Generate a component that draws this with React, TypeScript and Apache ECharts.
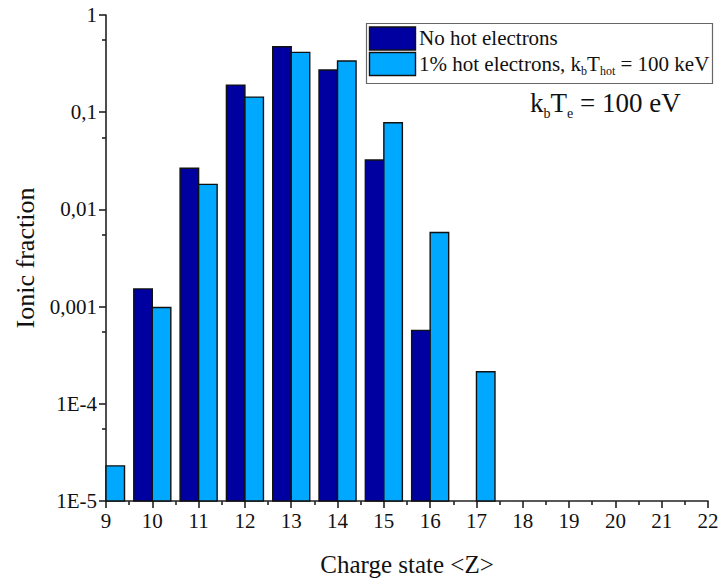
import React, { useEffect, useRef } from "react";
import * as echarts from "echarts";

const chargeStates = [9, 10, 11, 12, 13, 14, 15, 16, 17];
const noHot = [null, 0.00152, 0.0265, 0.19, 0.472, 0.272, 0.0322, 0.00057, null];
const withHot = [2.3e-5, 0.00098, 0.0181, 0.143, 0.413, 0.336, 0.078, 0.00578, 2.14e-4];
const yTickLabels = ["1", "0,1", "0,01", "0,001", "1E-4", "1E-5"];
const seriesNames = ["No hot electrons", "1% hot electrons, kbThot = 100 keV"];

const Y_MIN = 1e-5;
const Y_MAX = 1;
const X_MIN = 9;
const X_MAX = 22;
const BAR_W = 0.4;
const DARK = "#0000a0";
const LIGHT = "#00a8ff";
const FONT = "'Liberation Serif', 'Times New Roman', serif";

function makeBars(name: string, values: (number | null)[], from: number, to: number, color: string) {
  const data = chargeStates
    .map((z, i) => [z, values[i]])
    .filter((d) => d[1] != null);
  return {
    type: "custom",
    name,
    data,
    renderItem: (params: any, api: any) => {
      const x = api.value(0);
      const v = api.value(1);
      const p0 = api.coord([x + from, v]);
      const p1 = api.coord([x + to, Y_MIN]);
      return {
        type: "rect",
        shape: { x: p0[0], y: p0[1], width: p1[0] - p0[0], height: p1[1] - p0[1] },
        style: { fill: color, stroke: "#111", lineWidth: 1.4 },
      };
    },
  };
}

export default function App() {
  const ref = useRef<HTMLDivElement>(null);
  useEffect(() => {
    if (!ref.current) return;
    const chart = echarts.init(ref.current, null, { renderer: "svg" });
    const axisLabelStyle = { color: "#111", fontFamily: FONT, fontSize: 21 };
    chart.setOption({
      animation: false,
      backgroundColor: "#fff",
      grid: { left: 106, top: 15, width: 602, height: 486, containLabel: false, outerBoundsMode: "none" },
      xAxis: {
        type: "value",
        min: X_MIN,
        max: X_MAX,
        interval: 1,
        name: "Charge state <Z>",
        nameLocation: "middle",
        nameGap: 51,
        nameTextStyle: { color: "#111", fontFamily: FONT, fontSize: 25 },
        axisLine: { show: true, lineStyle: { color: "#222", width: 1.6 } },
        axisTick: { show: true, inside: false, length: 7, lineStyle: { color: "#222", width: 1.6 } },
        minorTick: { show: true, splitNumber: 2, length: 4, lineStyle: { color: "#222", width: 1.6 } },
        axisLabel: { ...axisLabelStyle, margin: 9 },
        splitLine: { show: false },
      },
      yAxis: {
        type: "log",
        logBase: 10,
        min: Y_MIN,
        max: Y_MAX,
        name: "Ionic fraction",
        nameLocation: "middle",
        nameGap: 64,
        nameTextStyle: { color: "#111", fontFamily: FONT, fontSize: 26 },
        axisLine: { show: true, lineStyle: { color: "#222", width: 1.6 } },
        axisTick: { show: true, inside: false, length: 7, lineStyle: { color: "#222", width: 1.6 } },
        minorTick: { show: true, splitNumber: 2, length: 4, lineStyle: { color: "#222", width: 1.6 } },
        axisLabel: {
          ...axisLabelStyle,
          margin: 9,
          formatter: (v: number) => {
            const k = Math.round(-Math.log10(v));
            return yTickLabels[k] ?? "";
          },
        },
        splitLine: { show: false },
      },
      series: [
        makeBars(seriesNames[0], noHot, -BAR_W, 0, DARK),
        makeBars(seriesNames[1], withHot, 0, BAR_W, LIGHT),
      ],
      graphic: [
        {
          type: "rect",
          shape: { x: 366.5, y: 23.5, width: 346, height: 60 },
          style: { fill: "#fff", stroke: "#666", lineWidth: 1.2 },
          z: 10,
        },
        {
          type: "rect",
          shape: { x: 369.5, y: 27, width: 46, height: 23 },
          style: { fill: DARK, stroke: "#111", lineWidth: 1.4 },
          z: 11,
        },
        {
          type: "rect",
          shape: { x: 369.5, y: 52.5, width: 46, height: 23 },
          style: { fill: LIGHT, stroke: "#111", lineWidth: 1.4 },
          z: 11,
        },
        {
          type: "text",
          x: 419,
          y: 38,
          z: 11,
          style: {
            text: "No hot electrons",
            fill: "#111",
            font: `21px ${FONT}`,
            verticalAlign: "middle",
          },
        },
        {
          type: "text",
          x: 419,
          y: 64,
          z: 11,
          style: {
            text: "{n|1% hot electrons, k}{s|b}{n|T}{s|hot}{n| = 100 keV}",
            fill: "#111",
            verticalAlign: "middle",
            rich: {
              n: { fontFamily: FONT, fontSize: 21, fill: "#111", lineHeight: 26, verticalAlign: "middle" },
              s: { fontFamily: FONT, fontSize: 12, fill: "#111", lineHeight: 26, verticalAlign: "bottom" },
            },
          },
        },
        {
          type: "text",
          x: 530,
          y: 103,
          z: 11,
          style: {
            text: "{n|k}{s|b}{n|T}{s|e}{n| = 100 eV}",
            fill: "#111",
            verticalAlign: "middle",
            rich: {
              n: { fontFamily: FONT, fontSize: 27, fill: "#111", lineHeight: 34, verticalAlign: "middle" },
              s: { fontFamily: FONT, fontSize: 14, fill: "#111", lineHeight: 34, verticalAlign: "bottom" },
            },
          },
        },
      ],
    });
    return () => chart.dispose();
  }, []);
  return (
    <div
      ref={ref}
      style={{ position: "fixed", left: 0, top: 0, width: 718, height: 581 }}
    />
  );
}
